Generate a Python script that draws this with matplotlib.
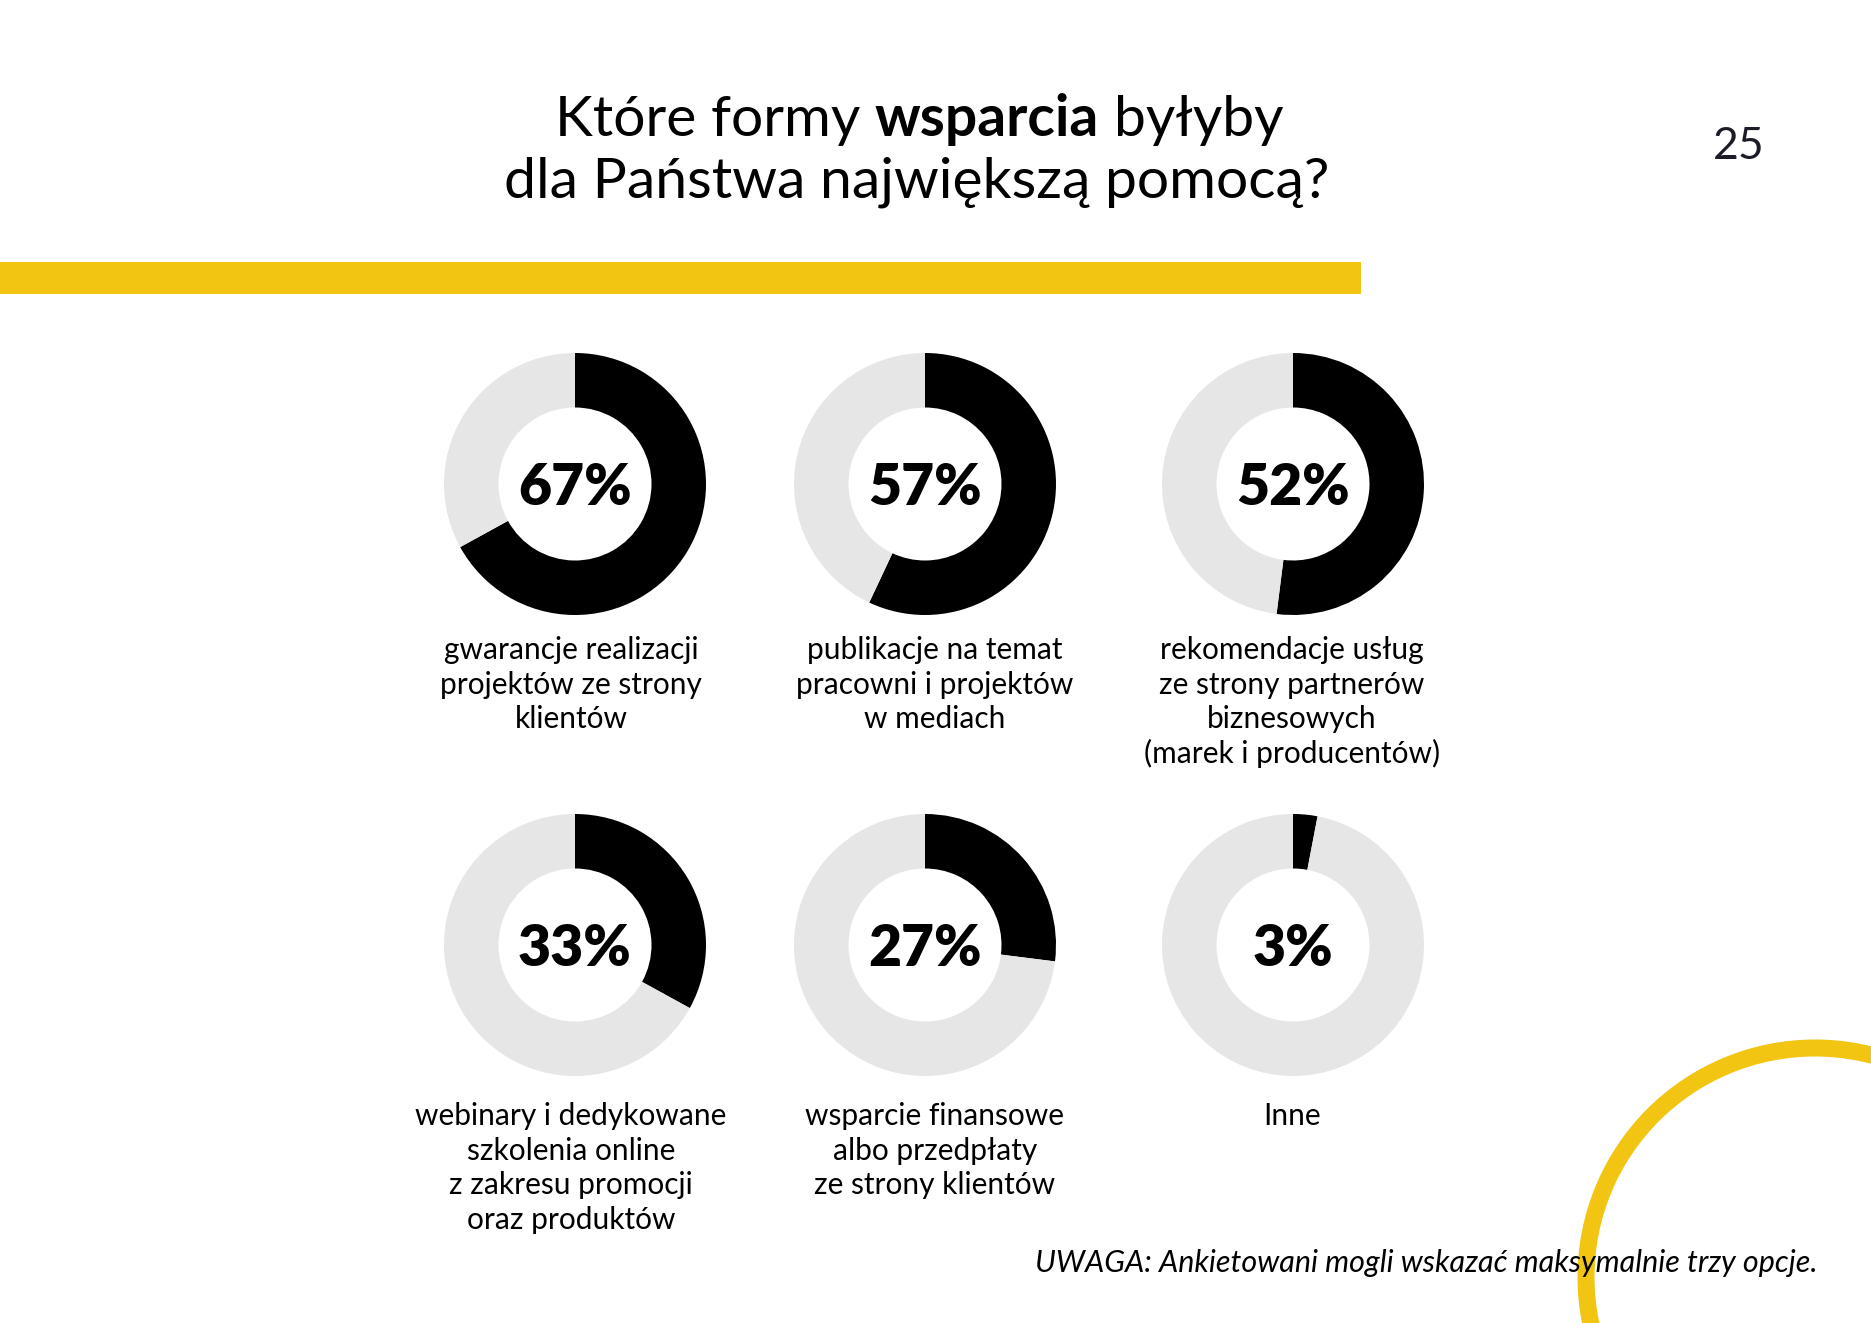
import matplotlib
matplotlib.use("Agg")
import matplotlib.pyplot as plt
from matplotlib.patches import Circle, Rectangle

# ---------------- data ----------------
title_line1 = ["Które formy", "wsparcia", "byłyby"]
title_line2 = "dla Państwa największą pomocą?"
page_number = "25"
percent_values = [67, 57, 52, 33, 27, 3]
percent_labels = ["67%", "57%", "52%", "33%", "27%", "3%"]
category_labels = [
    ["gwarancje realizacji", "projektów ze strony", "klientów"],
    ["publikacje na temat", "pracowni i projektów", "w mediach"],
    ["rekomendacje usług", "ze strony partnerów", "biznesowych", "(marek i producentów)"],
    ["webinary i dedykowane", "szkolenia online", "z zakresu promocji", "oraz produktów"],
    ["wsparcie finansowe", "albo przedpłaty", "ze strony klientów"],
    ["Inne"],
]
note_text = "UWAGA: Ankietowani mogli wskazać maksymalnie trzy opcje."

# ---------------- layout ----------------
W, H = 1871, 1323
DPI = 100
YELLOW = "#F1C511"
GRAY = "#E6E6E6"
FONT = "Lato"

donut_cx = [575, 925, 1293]
donut_cy = [484, 945]
label_cx = [571, 935, 1292]
label_y0 = [659, 1125]
line_step = 34.6
R_OUT = 131
R_IN = 76.5

fig = plt.figure(figsize=(W / DPI, H / DPI), dpi=DPI)
fig.patch.set_facecolor("white")
ax = fig.add_axes([0, 0, 1, 1])
ax.set_xlim(0, W)
ax.set_ylim(H, 0)
ax.axis("off")

# yellow bar
ax.add_patch(Rectangle((0, 262), 1361, 32, color=YELLOW, lw=0))
# yellow arc bottom-right
ax.add_patch(Circle((1815, 1277), 229, fill=False, ec=YELLOW, lw=17 * 0.72))

# title, line 1 with a bold word
renderer = fig.canvas.get_renderer()
tsize = 41
weights = ["normal", "bold", "normal"]
pieces = []
for s, w in zip(title_line1, weights):
    t = ax.text(0, 136, s, fontsize=tsize, fontweight=w, family=FONT,
                ha="left", va="baseline", color="black")
    pieces.append(t)
sp1 = ax.text(0, 0, "a a", fontsize=tsize, family=FONT)
sp2 = ax.text(0, 0, "aa", fontsize=tsize, family=FONT)
space_w = sp1.get_window_extent(renderer).width - sp2.get_window_extent(renderer).width
sp1.remove(); sp2.remove()
widths = [p.get_window_extent(renderer).width for p in pieces]
total = sum(widths) + space_w * (len(pieces) - 1)
x = 919 - total / 2
for p, wdt in zip(pieces, widths):
    p.set_x(x)
    x += wdt + space_w
ax.text(917, 198, title_line2, fontsize=tsize, family=FONT, ha="center",
        va="baseline", color="black")

# page number
ax.text(1739, 159, page_number, fontsize=32, family=FONT, ha="center",
        va="baseline", color="#1C1C28")

# donuts
for i, (val, lab) in enumerate(zip(percent_values, percent_labels)):
    row, col = divmod(i, 3)
    cx, cy = donut_cx[col], donut_cy[row]
    dax = fig.add_axes([(cx - R_OUT) / W, 1 - (cy + R_OUT) / H,
                        2 * R_OUT / W, 2 * R_OUT / H])
    dax.pie([val, 100 - val], colors=["black", GRAY], startangle=90,
            counterclock=False, radius=1,
            wedgeprops=dict(width=1 - R_IN / R_OUT, linewidth=0))
    dax.set_xlim(-1, 1)
    dax.set_ylim(-1, 1)
    dax.set_aspect("equal")
    dax.axis("off")
    ax.text(cx, cy + 21, lab, fontsize=41, fontweight="heavy", family=FONT,
            ha="center", va="baseline", color="black", zorder=5)
    # category label
    for j, line in enumerate(category_labels[i]):
        ax.text(label_cx[col], label_y0[row] + j * line_step, line, fontsize=21.5,
                family=FONT, ha="center", va="baseline", color="black")

# note
ax.text(1818, 1272, note_text, fontsize=22, family=FONT, style="italic",
        ha="right", va="baseline", color="black", zorder=5)

fig.savefig("out.png", dpi=DPI, facecolor="white")
